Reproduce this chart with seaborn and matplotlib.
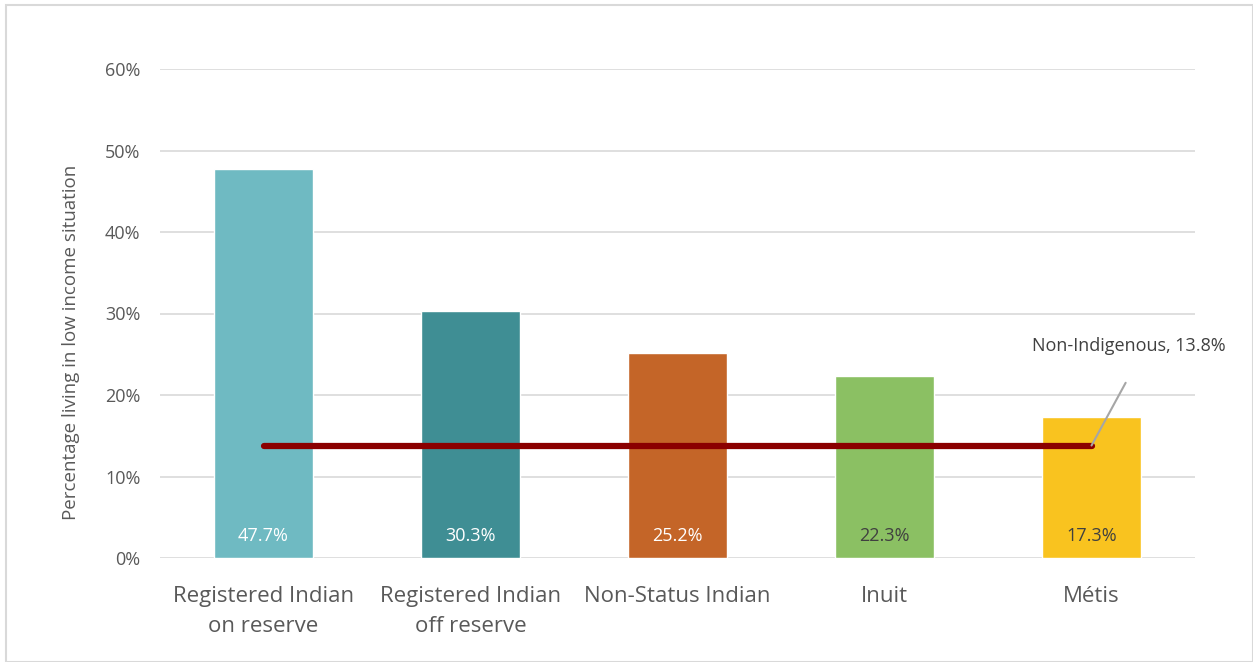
import seaborn as sns
import matplotlib.pyplot as plt
import matplotlib.patches as mpatches
import pandas as pd

categories = ["Registered Indian\non reserve", "Registered Indian\noff reserve",
              "Non-Status Indian", "Inuit", "Métis"]
values = [47.7, 30.3, 25.2, 22.3, 17.3]
colors = ["#6FBAC2", "#3F8E94", "#C46528", "#8BC063", "#F9C31F"]
label_colors = ["white", "white", "white", "#404040", "#404040"]
non_indigenous = 13.8

sns.set_theme(style="white")
plt.rcParams["font.family"] = ["Open Sans", "DejaVu Sans"]

df = pd.DataFrame({"group": categories, "pct": values})

fig = plt.figure(figsize=(12.53, 6.62), dpi=100)
ax = fig.add_axes([160 / 1253, 1 - 558 / 662, 1035 / 1253, 489 / 662])

sns.barplot(data=df, x="group", y="pct", hue="group", palette=colors,
            width=0.48, legend=False, ax=ax, saturation=1, zorder=2)

for i, (v, c) in enumerate(zip(values, label_colors)):
    ax.text(i, 1.6, f"{v}%", ha="center", va="bottom", color=c, fontsize=13, zorder=4)

# non-indigenous reference line + leader label
last = len(values) - 1
ax.plot([0, last], [non_indigenous, non_indigenous], color="#8B0000",
        lw=4.5, solid_capstyle="round", zorder=3)
ax.plot([last, last + 0.165], [non_indigenous, 21.5], color="#A6A6A6", lw=1.5, zorder=4)
ax.text(last + 0.18, 24.9, f"Non-Indigenous, {non_indigenous}%", ha="center",
        va="bottom", fontsize=13, color="#404040")

ax.set_ylim(0, 60)
ax.set_xlim(-0.5, len(values) - 0.5)
ax.set_yticks(range(0, 61, 10))
ax.set_yticklabels([f"{t}%" for t in range(0, 61, 10)], fontsize=13, color="#595959")
ax.tick_params(axis="x", labelsize=16, colors="#595959", pad=20, length=0)
for lbl in ax.get_xticklabels():
    lbl.set_linespacing(1.55)
ax.tick_params(axis="y", length=0, pad=14)
ax.yaxis.grid(True, color="#D9D9D9", lw=1.2, zorder=0)
ax.set_axisbelow(True)
for s in ax.spines.values():
    s.set_visible(False)
ax.set_xlabel("")
ax.set_ylabel("Percentage living in low income situation", fontsize=13.5, color="#595959")
ax.yaxis.set_label_coords(-0.077, 0.44)

fig.patches.append(mpatches.Rectangle((6 / 1253, 0), 1 - 6 / 1253, 1 - 5 / 662,
                                      transform=fig.transFigure, fill=False,
                                      edgecolor="#D9D9D9", lw=1.5))

fig.savefig("out.png", dpi=100)
